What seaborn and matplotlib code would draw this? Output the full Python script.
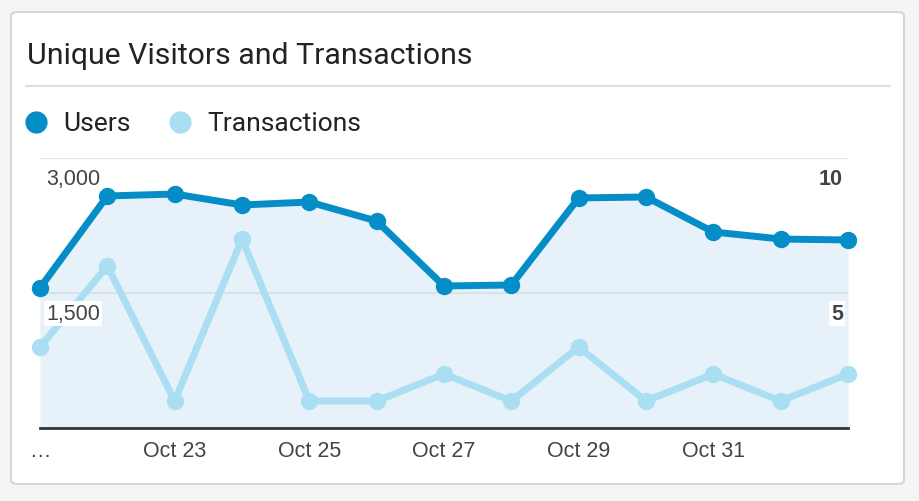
import matplotlib
matplotlib.use("Agg")
import matplotlib.pyplot as plt
import seaborn as sns
import pandas as pd
from matplotlib.patches import FancyBboxPatch
from matplotlib.lines import Line2D

dates = ["Oct 21", "Oct 22", "Oct 23", "Oct 24", "Oct 25", "Oct 26", "Oct 27",
         "Oct 28", "Oct 29", "Oct 30", "Oct 31", "Nov 1", "Nov 2"]
users = [1556, 2578, 2600, 2478, 2511, 2300, 1578, 1589, 2556, 2567, 2178, 2100, 2089]
transactions = [3, 6, 1, 7, 1, 1, 2, 1, 3, 1, 2, 1, 2]
tick_labels = ["…", "Oct 23", "Oct 25", "Oct 27", "Oct 29", "Oct 31"]
left_ticks = [1500, 3000]
left_tick_labels = ["1,500", "3,000"]
right_ticks = [5, 10]
right_tick_labels = ["5", "10"]

title = "Unique Visitors and Transactions"
c_users = "#058dc7"
c_trans = "#aadff3"
c_fill = "#e6f1f9"

df = pd.DataFrame({"idx": range(len(dates)), "date": dates,
                   "Users": users, "Transactions": transactions})

sns.set_theme(style="white")
plt.rcParams["font.family"] = ["Liberation Sans", "DejaVu Sans"]

W, H = 920, 502
fig = plt.figure(figsize=(W / 100, H / 100), dpi=100)
fig.patch.set_facecolor("#f5f5f5")

# card
card = FancyBboxPatch((11 / W, 1 - 485 / H), (904 - 11) / W, (485 - 13) / H,
                      boxstyle="round,pad=0,rounding_size=0.008",
                      transform=fig.transFigure, facecolor="white",
                      edgecolor="#d6d6d6", linewidth=1.5, zorder=0)
fig.patches.append(card)

# title and separator
fig.text(27 / W, 1 - 56 / H, title, fontsize=21.8, family="Roboto",
         color="#222222", va="center", ha="left")
fig.add_artist(Line2D([26 / W, 890 / W], [1 - 87 / H, 1 - 87 / H],
                      transform=fig.transFigure, color="#dddddd", lw=1.5))

# legend
fig.add_artist(Line2D([36 / W], [1 - 123 / H], marker="o", markersize=15,
                      color=c_users, transform=fig.transFigure, lw=0))
fig.text(63 / W, 1 - 124 / H, "Users", fontsize=19, family="Roboto",
         color="#222222", va="center", ha="left")
fig.add_artist(Line2D([180 / W], [1 - 123 / H], marker="o", markersize=15,
                      color=c_trans, transform=fig.transFigure, lw=0))
fig.text(207 / W, 1 - 124 / H, "Transactions", fontsize=19, family="Roboto",
         color="#222222", va="center", ha="left")

# axes
x0, x1, yt, yb = 40, 848, 159, 429
ax = fig.add_axes([x0 / W, 1 - yb / H, (x1 - x0) / W, (yb - yt) / H])
ax.set_xlim(0, len(dates) - 1)
ax.set_ylim(0, 3000)
ax2 = ax.twinx()
ax2.set_ylim(0, 10)
ax.set_zorder(1)
ax2.set_zorder(2)
ax.patch.set_visible(False)
ax2.patch.set_visible(False)

ax.fill_between(df["idx"], df["Users"], 0, color=c_fill, zorder=1, lw=0)
ax.axhline(3000, color="#e3e3e3", lw=1.5, zorder=1.5)
ax.axhline(1500, color="#d6e1e8", lw=1.5, zorder=1.5)

sns.lineplot(data=df, x="idx", y="Users", ax=ax, color=c_users,
             lw=5, marker="o", markersize=12.5, markeredgewidth=0,
             clip_on=False, zorder=4)
sns.lineplot(data=df, x="idx", y="Transactions", ax=ax2, color=c_trans,
             lw=5, marker="o", markersize=12.5, markeredgewidth=0,
             clip_on=False, zorder=3)

for a in (ax, ax2):
    for s in a.spines.values():
        s.set_visible(False)
    a.set_xlabel("")
    a.set_ylabel("")
    a.tick_params(left=False, right=False, bottom=False, labelleft=False,
                  labelright=False)
ax2.set_xticks([])
ax.spines["bottom"].set_visible(True)
ax.spines["bottom"].set_color("#333333")
ax.spines["bottom"].set_linewidth(2)
ax.spines["bottom"].set_zorder(6)

ax.set_xticks(list(range(0, 12, 2)))
ax.set_xticklabels(tick_labels, fontsize=15.5, color="#444444")
ax.tick_params(axis="x", pad=3)
ax.set_yticks([])
ax2.set_yticks([])

for v, lab in zip(left_ticks, left_tick_labels):
    ax2.annotate(lab, xy=(0, v / 300), xycoords=("axes fraction", "data"),
                 xytext=(6, -10), textcoords="offset pixels", va="top",
                 ha="left", fontsize=15.5, color="#444444", zorder=7,
                 bbox=dict(boxstyle="square,pad=0.08", fc="white", ec="none"))
for v, lab in zip(right_ticks, right_tick_labels):
    ax2.annotate(lab, xy=(1, v), xycoords=("axes fraction", "data"),
                 xytext=(-5, -10), textcoords="offset pixels", va="top",
                 ha="right", fontsize=15.5, color="#444444", fontweight="bold",
                 zorder=7,
                 bbox=dict(boxstyle="square,pad=0.08", fc="white", ec="none"))

fig.savefig("out.png", dpi=100)
